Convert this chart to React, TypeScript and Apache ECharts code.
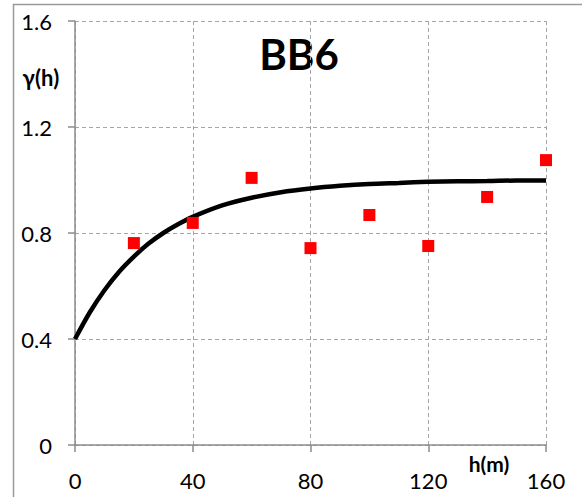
import React, { useEffect, useRef } from "react";
import * as echarts from "echarts";

const lagDistances = [20, 40, 60, 80, 100, 120, 140, 160];
const semivariance = [0.762, 0.838, 1.008, 0.743, 0.868, 0.751, 0.936, 1.075];

const modelLags = [0, 5, 10, 15, 20, 25, 30, 35, 40, 50, 60, 70, 80, 90, 100, 110, 120, 130, 140, 150, 160];
const modelValues = [0.4, 0.5, 0.584, 0.654, 0.711, 0.76, 0.8, 0.833, 0.861, 0.904, 0.933, 0.954, 0.968, 0.978, 0.985, 0.989, 0.993, 0.995, 0.996, 0.998, 0.998];

const titleText = "BB6";
const yAxisTitle = "γ(h)";
const xAxisTitle = "h(m)";

const FONT = "Lato, 'Open Sans', 'Liberation Sans', sans-serif";

export default function App() {
  const ref = useRef<HTMLDivElement>(null);

  useEffect(() => {
    if (!ref.current) return;
    const chart = echarts.init(ref.current, undefined, { renderer: "svg" });
    const axisGray = "#8c8c8c";
    const gridGray = "#a6a6a6";
    chart.setOption({
      animation: false,
      backgroundColor: "#ffffff",
      grid: { left: 75, right: 36, top: 21, bottom: 52, containLabel: false },
      xAxis: {
        type: "value",
        min: 0,
        max: 160,
        interval: 40,
        axisLine: { show: true, onZero: false, lineStyle: { color: axisGray, width: 1.5 } },
        axisTick: { show: true, length: 7, inside: false, lineStyle: { color: axisGray, width: 1.5 } },
        axisLabel: { color: "#000", fontFamily: FONT, fontSize: 22, margin: 24 },
        splitLine: { show: true, lineStyle: { color: gridGray, type: [4, 3], width: 1 } },
      },
      yAxis: {
        type: "value",
        min: 0,
        max: 1.6,
        interval: 0.4,
        axisLine: { show: true, onZero: false, lineStyle: { color: axisGray, width: 1.5 } },
        axisTick: { show: true, length: 7, inside: false, lineStyle: { color: axisGray, width: 1.5 } },
        axisLabel: { color: "#000", fontFamily: FONT, fontSize: 22, margin: 23 },
        splitLine: { show: true, lineStyle: { color: gridGray, type: [4, 3], width: 1 } },
      },
      series: [
        {
          type: "line",
          data: modelLags.map((h, i) => [h, modelValues[i]]),
          smooth: 0.3,
          showSymbol: false,
          symbol: "none",
          lineStyle: { color: "#000", width: 4.5 },
          z: 2,
        },
        {
          type: "scatter",
          data: lagDistances.map((h, i) => [h, semivariance[i]]),
          symbol: "rect",
          symbolSize: 12,
          itemStyle: { color: "#ff0000", opacity: 1 },
          z: 3,
        },
      ],
      graphic: [
        {
          type: "rect",
          shape: { x: 13.5, y: 4.5, width: 700, height: 700 },
          style: { fill: "none", stroke: "#9a9a9a", lineWidth: 1.5 },
          silent: true,
          z: 0,
        },
        {
          type: "text",
          x: 299,
          y: 54,
          style: {
            text: titleText,
            font: `bold 42px ${FONT}`,
            fill: "#000",
            align: "center",
            verticalAlign: "middle",
          },
        },
        {
          type: "text",
          x: 41,
          y: 77,
          style: {
            text: yAxisTitle,
            font: `bold 22px ${FONT}`,
            fill: "#000",
            align: "center",
            verticalAlign: "middle",
          },
        },
        {
          type: "text",
          x: 489,
          y: 463,
          style: {
            text: xAxisTitle,
            font: `bold 21px ${FONT}`,
            fill: "#000",
            align: "center",
            verticalAlign: "middle",
          },
        },
      ],
    });
    return () => chart.dispose();
  }, []);

  return (
    <div
      ref={ref}
      style={{ position: "fixed", left: 0, top: 0, width: 582, height: 497, background: "#fff" }}
    />
  );
}
